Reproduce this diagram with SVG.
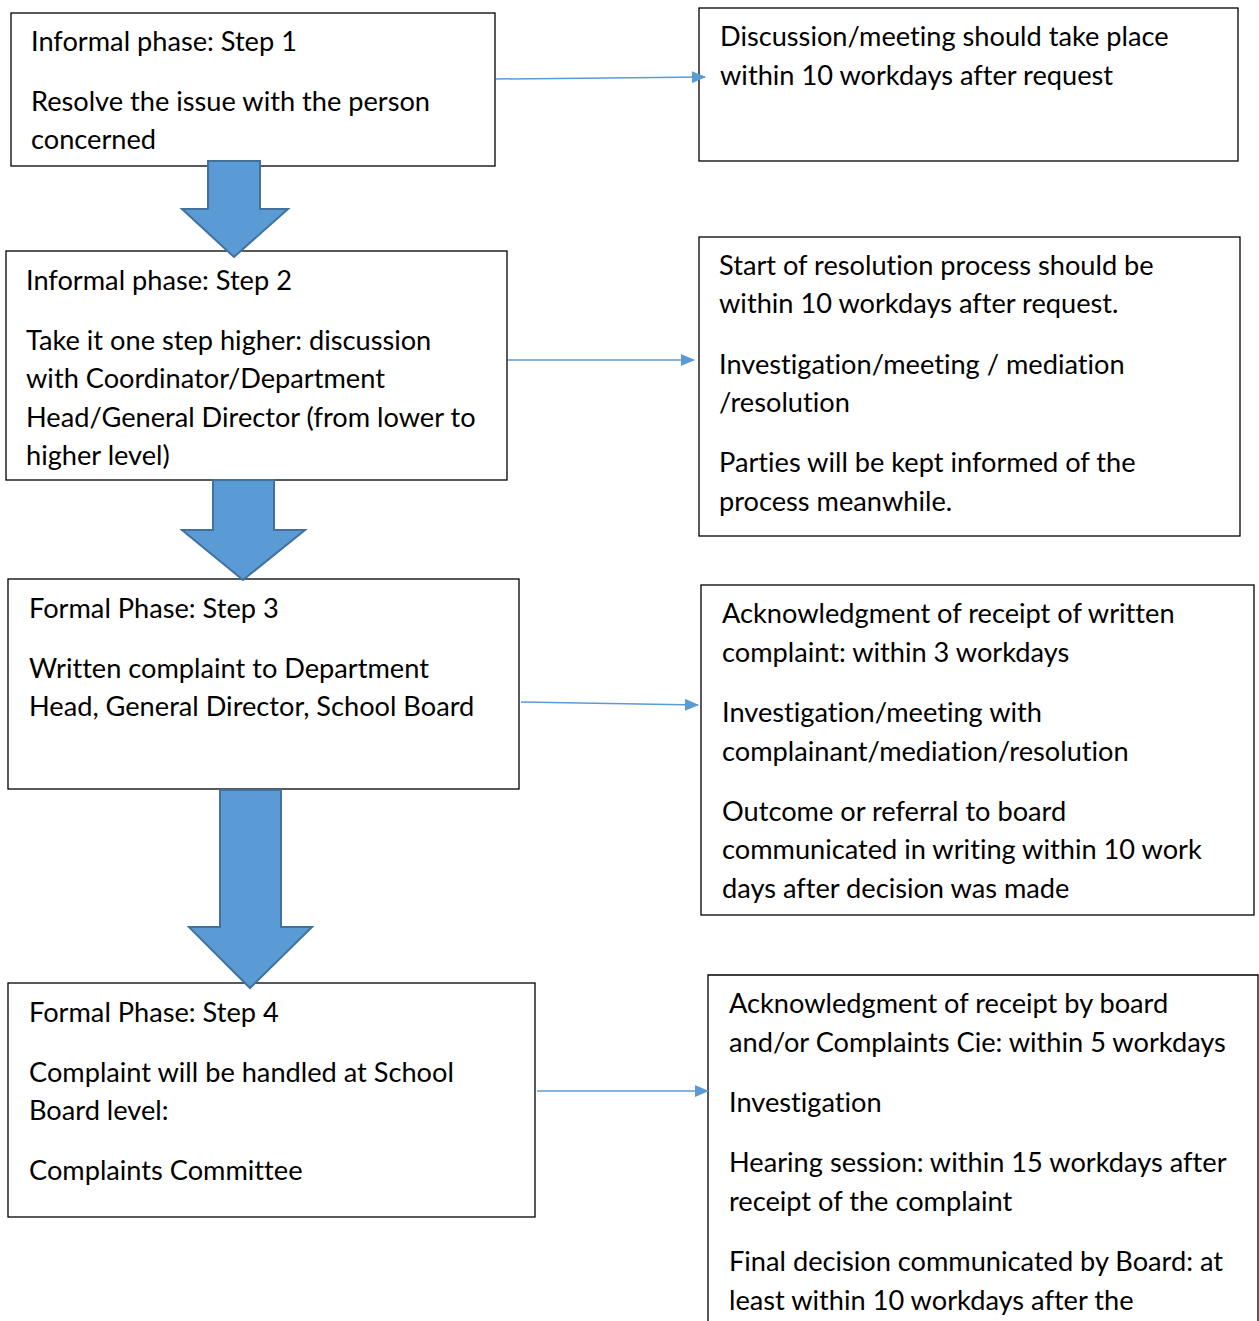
<svg xmlns="http://www.w3.org/2000/svg" width="1259" height="1321" viewBox="0 0 1259 1321">
<style>
.box{fill:#fff;stroke:#000;stroke-width:1.3}
.t{font-family:Lato,"Open Sans",sans-serif;font-size:27.2px;fill:#000;font-variant-ligatures:none}
.big{fill:#5B9BD5;stroke:#41719C;stroke-width:2}
.con{stroke:#5B9BD5;stroke-width:1.5;fill:none}
</style>
<defs>
<marker id="ah" markerWidth="14" markerHeight="12" refX="13" refY="6" orient="auto" markerUnits="userSpaceOnUse" viewBox="0 0 14 12">
<path d="M0,0 L14,6 L0,12 Z" fill="#5B9BD5"/>
</marker>
</defs>
<rect width="1259" height="1321" fill="#fff"/>
<g id="step1">
<rect class="box" x="11" y="13" width="484" height="153"/>
<text class="t" x="31" y="51">Informal phase: Step 1</text>
<text class="t" x="31" y="111">Resolve the issue with the person</text>
<text class="t" x="31" y="149">concerned</text>
</g>
<g id="note1">
<rect class="box" x="699" y="8" width="539" height="153"/>
<text class="t" x="720" y="46">Discussion/meeting should take place</text>
<text class="t" x="720" y="85">within 10 workdays after request</text>
</g>
<g id="step2">
<rect class="box" x="6" y="251" width="501" height="229"/>
<text class="t" x="26" y="290">Informal phase: Step 2</text>
<text class="t" x="26" y="350">Take it one step higher: discussion</text>
<text class="t" x="26" y="388">with Coordinator/Department</text>
<text class="t" x="26" y="427">Head/General Director (from lower to</text>
<text class="t" x="26" y="465">higher level)</text>
</g>
<g id="note2">
<rect class="box" x="699" y="237" width="541" height="299"/>
<text class="t" x="719" y="275">Start of resolution process should be</text>
<text class="t" x="719" y="313">within 10 workdays after request.</text>
<text class="t" x="719" y="374">Investigation/meeting / mediation</text>
<text class="t" x="719" y="412">/resolution</text>
<text class="t" x="719" y="472">Parties will be kept informed of the</text>
<text class="t" x="719" y="511">process meanwhile.</text>
</g>
<g id="step3">
<rect class="box" x="8" y="579" width="511" height="210"/>
<text class="t" x="29" y="618">Formal Phase: Step 3</text>
<text class="t" x="29" y="678">Written complaint to Department</text>
<text class="t" x="29" y="716">Head, General Director, School Board</text>
</g>
<g id="note3">
<rect class="box" x="701" y="585" width="553" height="330"/>
<text class="t" x="722" y="623">Acknowledgment of receipt of written</text>
<text class="t" x="722" y="662">complaint: within 3 workdays</text>
<text class="t" x="722" y="722">Investigation/meeting with</text>
<text class="t" x="722" y="761">complainant/mediation/resolution</text>
<text class="t" x="722" y="821">Outcome or referral to board</text>
<text class="t" x="722" y="859">communicated in writing within 10 work</text>
<text class="t" x="722" y="898">days after decision was made</text>
</g>
<g id="step4">
<rect class="box" x="8" y="983" width="527" height="234"/>
<text class="t" x="29" y="1022">Formal Phase: Step 4</text>
<text class="t" x="29" y="1082">Complaint will be handled at School</text>
<text class="t" x="29" y="1120">Board level:</text>
<text class="t" x="29" y="1180">Complaints Committee</text>
</g>
<g id="note4">
<path class="box" d="M708,1330 L708,975 L1258,975 L1258,1330" fill="#fff"/>
<text class="t" x="729" y="1013">Acknowledgment of receipt by board</text>
<text class="t" x="729" y="1052">and/or Complaints Cie: within 5 workdays</text>
<text class="t" x="729" y="1112">Investigation</text>
<text class="t" x="729" y="1172">Hearing session: within 15 workdays after</text>
<text class="t" x="729" y="1211">receipt of the complaint</text>
<text class="t" x="729" y="1271">Final decision communicated by Board: at</text>
<text class="t" x="729" y="1310">least within 10 workdays after the</text>
</g>
<g id="connectors">
<path class="big" d="M208,161 L260,161 L260,209 L288,209 L234,257 L182,209 L208,209 Z"/>
<path class="big" d="M213,480 L274,480 L274,530 L305,530 L243,580 L182,530 L213,530 Z"/>
<path class="big" d="M220,790 L281,790 L281,927 L312,927 L250,988 L189,927 L220,927 Z"/>
<line class="con" x1="496" y1="79" x2="705" y2="77" marker-end="url(#ah)"/>
<line class="con" x1="508" y1="360" x2="694" y2="360" marker-end="url(#ah)"/>
<line class="con" x1="521" y1="702" x2="698" y2="705" marker-end="url(#ah)"/>
<line class="con" x1="537" y1="1091" x2="708" y2="1091" marker-end="url(#ah)"/>
</g>
</svg>
